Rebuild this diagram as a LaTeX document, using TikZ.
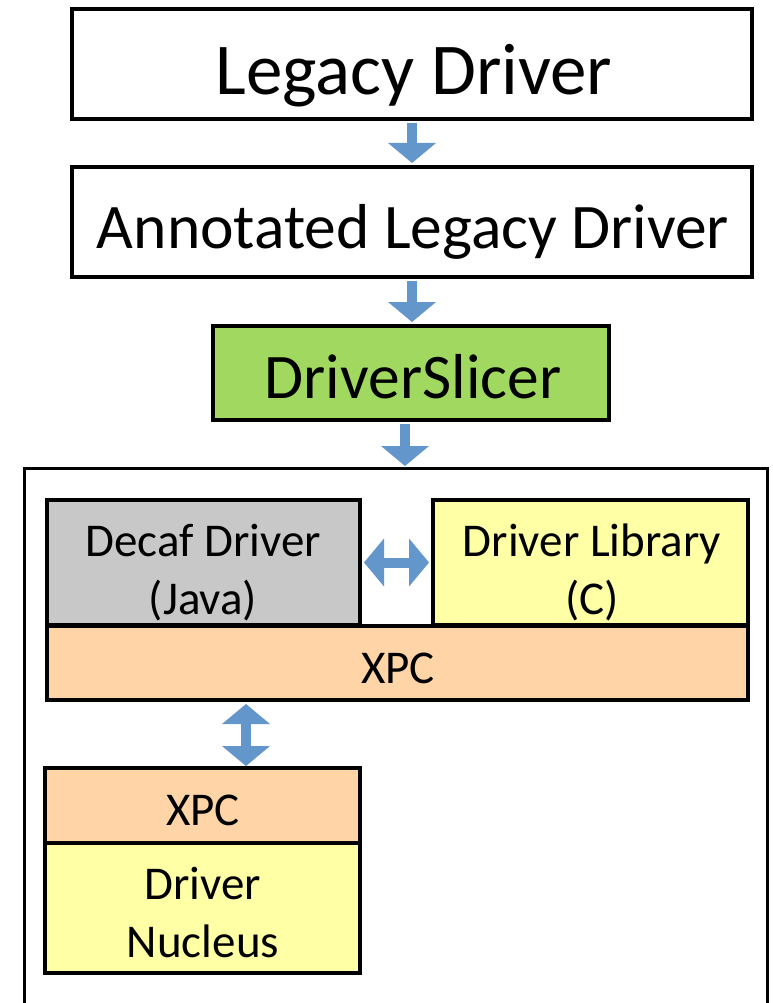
\documentclass[tikz,border=0pt]{standalone}
\usepackage{fontspec}
\setmainfont{Carlito}
\usetikzlibrary{arrows.meta}
\definecolor{arrblue}{HTML}{6397CB}
\definecolor{slicergreen}{HTML}{A0D860}
\definecolor{decafgray}{HTML}{C8C8C8}
\definecolor{libyellow}{HTML}{FFFFA5}
\definecolor{xpcorange}{HTML}{FFD5A8}
\begin{document}
\begin{tikzpicture}[x=1pt,y=-1pt,
  box/.style={draw=black, line width=4pt, inner sep=0pt, rectangle, line join=miter},
  lbl/.style={anchor=base, inner sep=0pt, align=center, text=black},
  big/.style={font=\fontsize{73}{88}\selectfont},
  mid/.style={font=\fontsize{63.5}{76}\selectfont},
  small/.style={font=\fontsize{47}{58}\selectfont},
  blk/.style={draw=arrblue, line width=10pt, shorten <=2pt, shorten >=2pt,
    -{Triangle[width=48pt,length=20pt,line width=0pt]}},
  dblk/.style={draw=arrblue, line width=10pt, shorten <=2pt, shorten >=2pt,
    {Triangle[width=48pt,length=20pt,line width=0pt]}-{Triangle[width=48pt,length=20pt,line width=0pt]}}]
\useasboundingbox (0,0) rectangle (772,1003);
\fill[white] (0,0) rectangle (772,1003);

% boxes
\node[box, fill=white, minimum width=680pt, minimum height=110pt] (legacy) at (412,64) {};
\node[box, fill=white, minimum width=680pt, minimum height=110pt] (annot) at (412,222) {};
\node[box, fill=slicergreen, minimum width=396pt, minimum height=94pt] (slicer) at (411,373) {};

% outer container (open at the bottom)
\draw[line width=3pt, line join=miter] (24,1003) -- (24,468) -- (767,468) -- (767,1003);
\coordinate (outertop) at (405,468);

\node[box, fill=decafgray, minimum width=313pt, minimum height=125pt] (decaf) at (203.5,562.5) {};
\node[box, fill=libyellow, minimum width=315pt, minimum height=125pt] (lib) at (590.5,562.5) {};
\node[box, fill=xpcorange, minimum width=701pt, minimum height=74pt] (xpcbig) at (397.5,663) {};
\node[box, fill=xpcorange, minimum width=315pt, minimum height=75pt] (xpcsmall) at (202.5,805.5) {};
\node[box, fill=libyellow, minimum width=315pt, minimum height=130pt] (nucleus) at (202.5,908) {};
\coordinate (vdbl) at (246,768);

% labels (anchor=base is the baseline of the last line)
\node[lbl, big] (tlegacy) at (414,95) {Legacy Driver};
\node[lbl, mid] (tannot) at (413,248) {Annotated Legacy Driver};
\node[lbl, mid] (tslicer) at (413,398) {DriverSlicer};
\node[lbl, small] (tdecaf) at (203,614) {Decaf Driver\\(Java)};
\node[lbl, small] (tlib) at (592,614) {Driver Library\\(C)};
\node[lbl, small] (txpcbig) at (398,683) {XPC};
\node[lbl, small] (txpcsmall) at (203,825) {XPC};
\node[lbl, small] (tnucleus) at (203,957) {Driver\\Nucleus};

% connectors
\draw[blk] (legacy.south) -- (annot.north);
\draw[blk] (annot.south) -- (annot.south |- slicer.north);
\draw[blk] (slicer.south -| outertop) -- (outertop);
\draw[dblk] (decaf.east) -- (lib.west);
\draw[dblk] (vdbl |- xpcbig.south) -- (vdbl);
\end{tikzpicture}
\end{document}
